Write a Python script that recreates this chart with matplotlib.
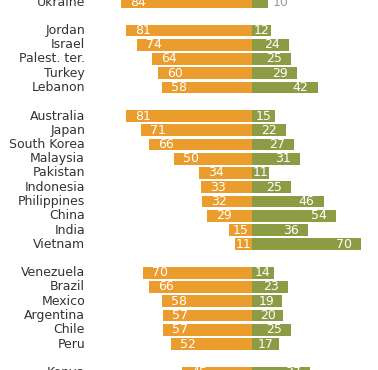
import matplotlib
matplotlib.use('Agg')
import matplotlib.pyplot as plt

# rows top to bottom, '' = spacer between regions
countries = ['Ukraine', '',
             'Jordan', 'Israel', 'Palest. ter.', 'Turkey', 'Lebanon', '',
             'Australia', 'Japan', 'South Korea', 'Malaysia', 'Pakistan',
             'Indonesia', 'Philippines', 'China', 'India', 'Vietnam', '',
             'Venezuela', 'Brazil', 'Mexico', 'Argentina', 'Chile', 'Peru', '',
             'Kenya']
left_vals = [84, None,
             81, 74, 64, 60, 58, None,
             81, 71, 66, 50, 34, 33, 32, 29, 15, 11, None,
             70, 66, 58, 57, 57, 52, None,
             45]
right_vals = [10, None,
              12, 24, 25, 29, 42, None,
              15, 22, 27, 31, 11, 25, 46, 54, 36, 70, None,
              14, 23, 19, 20, 25, 17, None,
              37]

ORANGE = '#EA9D2D'
GREEN = '#8C9C45'

fig = plt.figure(figsize=(3.78, 3.70), dpi=100)
ax = fig.add_axes([0, 0, 1, 1])

px = 1.56  # pixels per percentage point
row_h = 14.25
ax.set_xlim(-252 / px, 126 / px)
ax.set_ylim((370 - 2) / row_h, -2 / row_h)
ax.axis('off')

for i, name in enumerate(countries):
    if not name:
        continue
    lv, rv = left_vals[i], right_vals[i]
    ax.barh(i, -lv, height=0.84, color=ORANGE, linewidth=0)
    ax.barh(i, rv, height=0.84, color=GREEN, linewidth=0)
    ax.text(-107, i, name, ha='right', va='center', fontsize=9, color='#333333')
    ax.text(-lv + min(11, lv / 2), i, str(lv), ha='center', va='center',
            fontsize=9, color='white')
    if name == 'Ukraine':
        # small value drawn outside the bar
        ax.text(rv + 3, i, str(rv), ha='left', va='center', fontsize=9, color='#999999')
    else:
        ax.text(rv - min(11, rv / 2), i, str(rv), ha='center', va='center',
                fontsize=9, color='white')

plt.savefig('out.png', dpi=100)
